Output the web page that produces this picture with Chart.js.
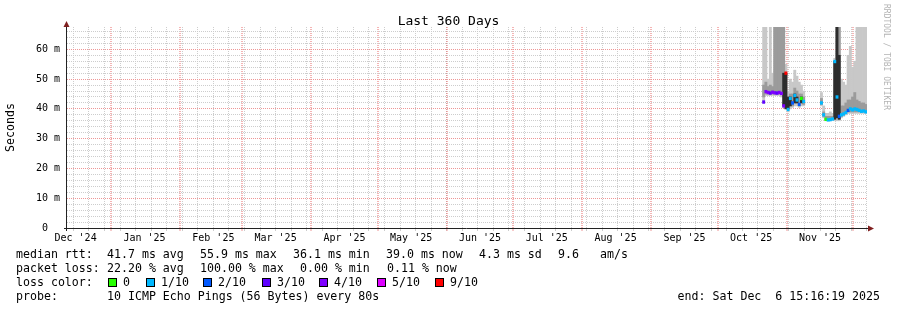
<!DOCTYPE html>
<html>
<head>
<meta charset="utf-8">
<script src="https://cdn.jsdelivr.net/npm/chart.js@4.4.1/dist/chart.umd.min.js"></script>
<style>
  html, body { margin: 0; padding: 0; background: #fff; }
  #wrap { position: relative; width: 897px; height: 310px; font-family: 'DejaVu Sans Mono', monospace; }
  #wrap canvas { position: absolute; left: 0; top: 0; }
  #title { position: absolute; left: 0; top: 14px; width: 897px; text-align: center; font-size: 13px; line-height: 13px; color: #000; }
  .t { position: absolute; font-size: 11.6px; line-height: 14px; white-space: pre; color: #000; }
  .box { position: absolute; width: 7px; height: 7px; border: 1px solid #000; }
  #wm { position: absolute; left: 882px; top: 4px; writing-mode: vertical-rl; font-size: 8px; color: #b4b4b4; white-space: pre; }
</style>
</head>
<body>
<div id="wrap">
  <canvas id="c" width="897" height="310"></canvas>
  <div id="title">Last 360 Days</div>
  <div id="legend"></div>
  <div id="wm">RRDTOOL / TOBI OETIKER</div>
</div>
<script>
// days since graph start (1 column = 1 day)
const days = [313, 314, 315, 316, 317, 318, 319, 320, 321, 322, 323, 324, 325, 326, 327, 328, 329, 330, 331,
              339, 340, 341, 342, 343, 344, 345, 346, 347, 348, 349, 350, 351, 352, 353, 354, 355, 356, 357, 358, 359];

// median rtt (ms) and lost pings out of 10
const median = [42.3, 45.8, 45.5, 45.3, 45.6, 45.4, 45.3, 45.5, 45.2, 41.0, 52.0, 39.8, 43.5, 42.0, 44.5, 43.0, 41.5, 43.5, 42.5,
                42.0, 38.0, 36.5, 36.3, 36.4, 36.6, 55.9, 44.0, 37.5, 38.0, 38.3, 38.8, 39.5, 40.0, 39.7, 40.0, 39.8, 39.5, 39.2, 39.3, 39.0];
const loss = [3, 4, 4, 3, 4, 4, 3, 4, 4, 4, 9, 1, 1, 2, 1, 1, 2, 0, 1,
              1, 1, 0, 1, 1, 1, 1, 1, 2, 1, 1, 1, 2, 1, 1, 1, 1, 1, 1, 1, 1];

// smoke: full ping range, middle pings, densest core
const smokeLo = [42, 44.5, 44.5, 44.5, 44.5, 44.5, 44.5, 44.5, 44, 40.5, 40, 39, 40, 40.5, 41, 41, 40.5, 41, 41,
                 41, 37, 36, 36, 36, 36.2, 36, 36, 36, 37, 37.5, 38, 38.5, 38.5, 38.5, 38.5, 38.5, 38.5, 38.5, 38.5, 38.5];
const smokeHi = [68, 68, 50, 68, 52, 68, 68, 68, 68, 68, 55, 46, 50, 49, 53, 51, 49, 48, 46,
                 45.5, 41, 38.5, 38.5, 39, 38.5, 57, 68, 68, 50, 49, 48, 58, 61, 54, 56, 68, 68, 68, 68, 68];
const midLo = [44, 45, 45, 45, 45, 45, 45, 45, 45, 44, 41, 40, 41, 41, 42, 42, 41, 42, 41.5,
               41.5, 37.5, 36.2, 36.2, 36.2, 36.4, 37, 37, 36.5, 37.5, 38, 38.5, 39, 39, 39, 39, 39, 39, 39, 39, 38.8];
const midHi = [48, 49, 47.5, 48, 47.5, 68, 68, 68, 68, 68, 52, 43, 45, 45, 47, 46, 45, 45, 44,
               43.5, 39, 37.5, 37.5, 37.5, 37.5, 56, 68, 68, 41, 41, 42, 43, 43, 44, 45.5, 43, 42.5, 42, 42, 41.5];
const coreLo = [null, null, null, null, null, null, null, null, null, 41, 40, 40, 41, null, 42, 42, null, 42, null,
                null, null, null, null, null, null, 36.5, 37, 36.5, null, null, null, null, null, null, null, null, null, null, null, null];
const coreHi = [null, null, null, null, null, null, null, null, null, 52, 52, 44, 44, null, 45, 44, null, 44, null,
                null, null, null, null, null, null, 56, 68, 58, null, null, null, null, null, null, null, null, null, null, null, null];

const lossLevels = [0, 1, 2, 3, 4, 5, 9];
const lossLabels = ['0', '1/10', '2/10', '3/10', '4/10', '5/10', '9/10'];
const lossColors = ['#26ff00', '#00b8ff', '#0059ff', '#5e00ff', '#7e00ff', '#dd00ff', '#ff0000'];

const monthLabels = ["Dec '24", "Jan '25", "Feb '25", "Mar '25", "Apr '25", "May '25",
                     "Jun '25", "Jul '25", "Aug '25", "Sep '25", "Oct '25", "Nov '25"];
const yTickValues = [0, 10, 20, 30, 40, 50, 60];
const yTickLabels = ['0  ', '10 m', '20 m', '30 m', '40 m', '50 m', '60 m'];

const MONO = "'DejaVu Sans Mono', monospace";
const GRID = 'rgb(205,205,205)';
const MGRID = 'rgb(238,150,150)';
const MGRID_V = 'rgba(230,90,90,0.45)';
const MEDIAN_W = 0.9; // thickness of the median band, ms

// calendar positions in days from graph start
const DAY = 86400000;
const t0 = Date.UTC(2024, 11, 12, 3, 16, 19);
const dayOf = t => (t - t0) / DAY;
const weekDays = [];
for (let t = Date.UTC(2024, 11, 15); t < t0 + 360 * DAY; t += 7 * DAY) weekDays.push(dayOf(t));
const monthDays = [];
for (let m = 0; m < 12; m++) monthDays.push(dayOf(Date.UTC(2025, m, 1)));
const labelDays = monthLabels.map((l, i) => dayOf(Date.UTC(2024, 11 + i, 16)));

const lossColor = l => lossColors[lossLevels.indexOf(l)];

function band(lo, hi) {
  return days.map((d, i) => lo[i] == null ? null : { x: d + 0.5, y: [lo[i], hi[i]] }).filter(Boolean);
}
const medianBars = days.map((d, i) => ({ x: d + 0.5, y: [median[i] - MEDIAN_W / 2, median[i] + MEDIAN_W / 2], loss: loss[i] }));

const barOpts = { type: 'bar', barPercentage: 1, categoryPercentage: 1, grouped: false, borderWidth: 0, clip: 0 };

const axisArrows = {
  id: 'axisArrows',
  afterDraw(chart) {
    const { ctx, chartArea: a } = chart;
    ctx.save();
    ctx.strokeStyle = '#222';
    ctx.lineWidth = 1;
    ctx.beginPath();
    ctx.moveTo(a.left - 0.5, a.bottom + 3);
    ctx.lineTo(a.left - 0.5, a.top - 3);
    ctx.moveTo(a.left - 3, a.bottom + 0.5);
    ctx.lineTo(a.right + 2, a.bottom + 0.5);
    ctx.stroke();
    ctx.fillStyle = '#802020';
    ctx.beginPath();
    ctx.moveTo(a.left - 0.5, a.top - 6);
    ctx.lineTo(a.left - 3.5, a.top);
    ctx.lineTo(a.left + 2.5, a.top);
    ctx.closePath();
    ctx.fill();
    ctx.beginPath();
    ctx.moveTo(a.right + 7, a.bottom + 0.5);
    ctx.lineTo(a.right + 1, a.bottom - 2.5);
    ctx.lineTo(a.right + 1, a.bottom + 3.5);
    ctx.closePath();
    ctx.fill();
    ctx.restore();
  }
};

const xBase = { type: 'linear', position: 'bottom', min: 0, max: 360, offset: false };

new Chart(document.getElementById('c'), {
  type: 'bar',
  data: {
    datasets: [
      { ...barOpts, data: band(smokeLo, smokeHi), backgroundColor: 'rgb(200,200,200)', order: 4 },
      { ...barOpts, data: band(midLo, midHi), backgroundColor: 'rgb(155,155,155)', order: 3 },
      { ...barOpts, data: band(coreLo, coreHi), backgroundColor: 'rgb(45,45,45)', order: 2 },
      { ...barOpts, data: medianBars, order: 1, backgroundColor: c => lossColor(c.raw ? c.raw.loss : 1) }
    ]
  },
  options: {
    responsive: false,
    animation: false,
    events: [],
    layout: { padding: { top: 27, right: 30, bottom: 62, left: 0 } },
    plugins: {
      legend: { display: false },
      tooltip: { enabled: false }
    },
    scales: {
      x: {
        ...xBase,
        afterBuildTicks: s => { s.ticks = weekDays.map(v => ({ value: v })); },
        ticks: { display: false },
        grid: { offset: false, color: GRID, tickColor: GRID, tickLength: 3, tickBorderDash: [] },
        border: { display: false, dash: [1, 1] },
        afterFit: s => { s.height = 0; }
      },
      xm: {
        ...xBase,
        afterBuildTicks: s => { s.ticks = monthDays.map(v => ({ value: v })); },
        ticks: { display: false },
        grid: { offset: false, color: MGRID_V, lineWidth: 2, tickColor: MGRID, tickWidth: 1, tickLength: 3, tickBorderDash: [] },
        border: { display: false, dash: [1, 1] },
        afterFit: s => { s.height = 0; }
      },
      xl: {
        ...xBase,
        afterBuildTicks: s => { s.ticks = labelDays.map(v => ({ value: v })); },
        ticks: {
          autoSkip: false, maxRotation: 0, padding: 4, color: '#000',
          font: { family: MONO, size: 10 },
          callback: (v, i) => monthLabels[i]
        },
        grid: { display: false, drawTicks: false, offset: false },
        border: { display: false },
        afterFit: s => { s.height = 20; }
      },
      y: {
        min: 0, max: 67.5,
        afterBuildTicks: s => {
          const t = [];
          for (let v = 0; v < 67.5; v += 2) t.push({ value: v });
          s.ticks = t;
        },
        ticks: {
          autoSkip: false, padding: 7, color: '#000',
          font: { family: MONO, size: 10 },
          callback: v => { const i = yTickValues.indexOf(v); return i < 0 ? '' : yTickLabels[i]; }
        },
        grid: { drawTicks: false, color: c => (c.tick && c.tick.value % 10 === 0) ? MGRID : GRID },
        border: { display: false, dash: [1, 1] },
        title: {
          display: true, text: 'Seconds', color: '#000',
          font: { family: MONO, size: 11.6 }, padding: { top: 4, bottom: 0 }
        },
        afterFit: s => { s.width = 67; }
      }
    }
  },
  plugins: [axisArrows]
});

// text legend under the graph
const legend = document.getElementById('legend');
function put(x, y, text, right) {
  const el = document.createElement('div');
  el.className = 't';
  el.style.top = y + 'px';
  if (right) el.style.right = x + 'px'; else el.style.left = x + 'px';
  el.textContent = text;
  legend.appendChild(el);
}
const legendRows = [
  [247, [[16, 'median rtt:'], [107, '41.7 ms avg'], [200, '55.9 ms max'], [293, '36.1 ms min'],
         [386, '39.0 ms now'], [479, '4.3 ms sd'], [558, '9.6'], [600, 'am/s']]],
  [261, [[16, 'packet loss:'], [107, '22.20 % avg'], [200, '100.00 % max'], [300, '0.00 % min'], [387, '0.11 % now']]],
  [275, [[16, 'loss color:']]],
  [289, [[16, 'probe:'], [107, '10 ICMP Echo Pings (56 Bytes) every 80s']]]
];
legendRows.forEach(([y, items]) => items.forEach(([x, s]) => put(x, y, s)));
const boxX = [108, 146, 203, 262, 319, 377, 435];
lossLabels.forEach((l, i) => {
  const b = document.createElement('div');
  b.className = 'box';
  b.style.left = boxX[i] + 'px';
  b.style.top = '278px';
  b.style.background = lossColors[i];
  legend.appendChild(b);
  put(boxX[i] + 15, 275, l);
});
put(17, 289, 'end: Sat Dec  6 15:16:19 2025', true);
</script>
</body>
</html>
